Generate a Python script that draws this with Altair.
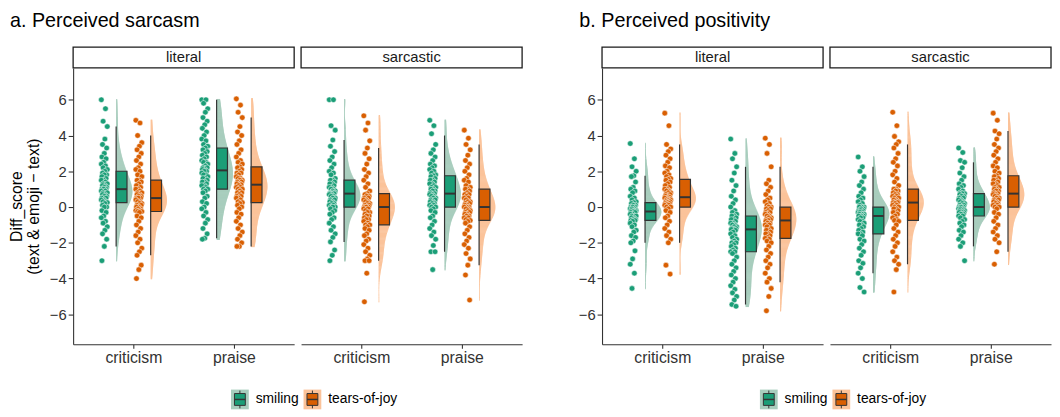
import altair as alt
import pandas as pd

FONT = "Liberation Sans"

PANELS = ["a. Perceived sarcasm", "b. Perceived positivity"]
CONDITIONS = ["literal", "sarcastic"]
CATEGORIES = ["criticism", "praise"]
EMOJIS = ["smiling", "tears-of-joy"]
Y_TITLE = ["Diff_score", "(text & emoji \u2212 text)"]
Y_TICKS = [-6, -4, -2, 0, 2, 4, 6]

# ---- a. Perceived sarcasm: individual diff scores ----
sarc_lit_crit_smiling = [6.0, 5.5, 4.8, 4.5, 3.8, 3.5, 3.3, 3.0, 2.8, 2.7, 2.5, 2.4, 2.3, 2.2, 2.1, 2.0,
                         1.9, 1.8, 1.8, 1.7, 1.6, 1.5, 1.5, 1.4, 1.3, 1.3, 1.2, 1.2, 1.1, 1.1, 1.0, 1.0,
                         1.0, 0.9, 0.9, 0.8, 0.8, 0.7, 0.7, 0.6, 0.6, 0.5, 0.5, 0.4, 0.4, 0.3, 0.3, 0.25,
                         0.2, 0.1, 0.0, 0.0, -0.2, -0.3, -0.5, -0.6, -0.8, -0.9, -1.1, -1.3, -1.5, -1.8, -2.2, -3.0]
sarc_lit_crit_tears = [4.85, 4.7, 4.0, 3.6, 3.4, 3.2, 3.0, 2.8, 2.6, 2.4, 2.2, 2.1, 2.0, 1.8, 1.7, 1.5,
                       1.5, 1.4, 1.3, 1.2, 1.1, 1.0, 1.0, 0.9, 0.8, 0.8, 0.7, 0.7, 0.6, 0.6, 0.5, 0.5,
                       0.5, 0.4, 0.3, 0.3, 0.2, 0.2, 0.1, 0.1, 0.0, 0.0, -0.1, -0.1, -0.2, -0.2, -0.25, -0.25,
                       -0.3, -0.5, -0.6, -0.8, -1.0, -1.2, -1.4, -1.6, -1.8, -2.0, -2.3, -2.5, -2.7, -3.25, -3.5, -4.0]
sarc_lit_praise_smiling = [6.0, 6.0, 5.8, 5.5, 5.3, 5.0, 4.8, 4.6, 4.4, 4.2, 4.0, 3.8, 3.7, 3.5, 3.4, 3.3,
                           3.2, 3.1, 3.0, 2.9, 2.8, 2.7, 2.6, 2.5, 2.5, 2.4, 2.3, 2.2, 2.2, 2.1, 2.1, 2.0,
                           2.0, 1.9, 1.8, 1.8, 1.7, 1.6, 1.6, 1.5, 1.4, 1.4, 1.3, 1.2, 1.2, 1.1, 1.0, 1.0,
                           0.9, 0.8, 0.6, 0.5, 0.3, 0.2, 0.0, -0.1, -0.3, -0.5, -0.7, -0.9, -1.2, -1.5, -1.75, -1.8]
sarc_lit_praise_tears = [6.05, 5.7, 5.3, 5.0, 4.5, 4.2, 4.0, 3.7, 3.5, 3.2, 3.0, 2.8, 2.6, 2.5, 2.4, 2.25,
                         2.2, 2.1, 2.0, 1.9, 1.9, 1.8, 1.7, 1.6, 1.6, 1.5, 1.5, 1.4, 1.4, 1.3, 1.3, 1.25,
                         1.2, 1.1, 1.1, 1.0, 1.0, 0.9, 0.8, 0.8, 0.7, 0.6, 0.6, 0.5, 0.5, 0.4, 0.3, 0.25,
                         0.2, 0.1, 0.0, -0.1, -0.3, -0.4, -0.6, -0.8, -1.0, -1.2, -1.4, -1.6, -1.8, -2.0, -2.2, -2.2]
sarc_sar_crit_smiling = [6.0, 6.0, 4.55, 4.3, 3.75, 3.4, 3.1, 2.8, 2.6, 2.4, 2.2, 2.0, 1.9, 1.8, 1.6, 1.5,
                         1.5, 1.4, 1.3, 1.3, 1.2, 1.1, 1.1, 1.0, 1.0, 0.9, 0.9, 0.8, 0.8, 0.8, 0.75, 0.75,
                         0.7, 0.7, 0.6, 0.6, 0.5, 0.5, 0.4, 0.4, 0.3, 0.3, 0.2, 0.2, 0.1, 0.1, 0.0, 0.0,
                         0.0, -0.1, -0.2, -0.3, -0.4, -0.6, -0.7, -0.9, -1.1, -1.3, -1.5, -1.7, -1.95, -2.4, -2.7, -3.0]
sarc_sar_crit_tears = [5.1, 4.7, 4.3, 3.7, 3.3, 3.0, 2.7, 2.4, 2.1, 1.9, 1.7, 1.5, 1.3, 1.1, 0.9, 0.75,
                       0.7, 0.6, 0.6, 0.5, 0.5, 0.4, 0.4, 0.3, 0.3, 0.2, 0.2, 0.1, 0.1, 0.0, 0.0, 0.0,
                       0.0, -0.1, -0.1, -0.2, -0.3, -0.3, -0.4, -0.5, -0.5, -0.6, -0.7, -0.7, -0.8, -0.9, -1.0, -1.0,
                       -1.1, -1.2, -1.3, -1.5, -1.6, -1.8, -1.9, -2.1, -2.3, -2.5, -2.7, -2.9, -3.0, -3.0, -3.7, -5.3]
sarc_sar_praise_smiling = [4.85, 4.55, 4.1, 3.5, 3.2, 3.0, 2.8, 2.6, 2.4, 2.3, 2.2, 2.1, 2.0, 1.9, 1.8, 1.75,
                           1.7, 1.6, 1.5, 1.5, 1.4, 1.3, 1.3, 1.2, 1.1, 1.1, 1.0, 1.0, 0.9, 0.9, 0.8, 0.75,
                           0.7, 0.7, 0.6, 0.6, 0.5, 0.5, 0.4, 0.4, 0.3, 0.3, 0.2, 0.2, 0.1, 0.1, 0.0, 0.0,
                           -0.1, -0.2, -0.3, -0.5, -0.6, -0.8, -1.0, -1.2, -1.4, -1.6, -1.8, -2.15, -2.5, -2.5, -3.5]
sarc_sar_praise_tears = [4.3, 3.85, 3.5, 3.2, 2.9, 2.6, 2.4, 2.2, 2.0, 1.8, 1.6, 1.5, 1.4, 1.2, 1.1, 1.0,
                         1.0, 0.9, 0.8, 0.7, 0.7, 0.6, 0.5, 0.5, 0.4, 0.3, 0.3, 0.2, 0.2, 0.1, 0.1, 0.0,
                         0.0, 0.0, -0.1, -0.1, -0.2, -0.2, -0.3, -0.3, -0.4, -0.4, -0.5, -0.5, -0.6, -0.6, -0.7, -0.75,
                         -0.8, -0.9, -1.1, -1.3, -1.5, -1.7, -1.9, -2.1, -2.3, -2.6, -2.9, -3.25, -3.8, -5.2]

# ---- b. Perceived positivity: individual diff scores ----
pos_lit_crit_smiling = [3.55, 2.7, 2.25, 2.0, 1.75, 1.7, 1.4, 1.1, 1.0, 0.9, 0.8, 0.6, 0.5, 0.4, 0.3, 0.25,
                        0.2, 0.1, 0.1, 0.0, 0.0, 0.0, -0.1, -0.1, -0.1, -0.2, -0.2, -0.2, -0.25, -0.25,
                        -0.3, -0.3, -0.4, -0.4, -0.5, -0.5, -0.5, -0.6, -0.6, -0.7, -0.7, -0.75, -0.75,
                        -0.8, -0.9, -1.0, -1.1, -1.3, -1.4, -1.6, -1.7, -1.9, -2.0, -2.45, -2.9, -3.2, -3.7, -4.55]
pos_lit_crit_tears = [5.25, 4.55, 3.5, 3.25, 3.1, 2.9, 2.7, 2.5, 2.3, 2.2, 2.0, 1.9, 1.8, 1.7, 1.6, 1.55,
                      1.5, 1.4, 1.3, 1.2, 1.1, 1.0, 1.0, 0.9, 0.9, 0.8, 0.8, 0.7, 0.7, 0.6, 0.6, 0.55,
                      0.5, 0.5, 0.45, 0.4, 0.4, 0.35, 0.3, 0.3, 0.25, 0.2, 0.2, 0.15, 0.1, 0.1, 0.0, 0.0,
                      -0.1, -0.2, -0.3, -0.5, -0.6, -0.8, -1.0, -1.2, -1.4, -1.6, -1.8, -2.0, -3.25, -3.75]
pos_lit_praise_smiling = [3.8, 3.0, 2.7, 2.25, 1.9, 1.5, 1.2, 0.9, 0.6, 0.4, 0.2, 0.0, -0.2, -0.3, -0.4, -0.5,
                          -0.5, -0.6, -0.7, -0.7, -0.8, -0.9, -0.9, -1.0, -1.0, -1.1, -1.1, -1.2, -1.2, -1.25, -1.25,
                          -1.3, -1.4, -1.5, -1.6, -1.7, -1.8, -1.9, -2.0, -2.0, -2.1, -2.2, -2.3, -2.4, -2.5, -2.5,
                          -2.6, -2.8, -3.0, -3.2, -3.4, -3.6, -3.8, -4.0, -4.2, -4.4, -4.6, -4.8, -5.0, -5.2, -5.45, -5.55]
pos_lit_praise_tears = [3.85, 3.5, 3.0, 2.25, 1.5, 1.3, 1.1, 0.9, 0.7, 0.5, 0.4, 0.3, 0.2, 0.1, 0.0, 0.0,
                        -0.1, -0.1, -0.2, -0.3, -0.3, -0.4, -0.4, -0.5, -0.5, -0.6, -0.6, -0.7, -0.7, -0.75,
                        -0.8, -0.9, -0.9, -1.0, -1.0, -1.1, -1.2, -1.3, -1.3, -1.4, -1.5, -1.5, -1.6, -1.7, -1.75,
                        -1.8, -1.9, -2.0, -2.2, -2.4, -2.6, -2.8, -3.0, -3.2, -3.4, -3.7, -4.0, -4.2, -4.55, -5.0, -5.8]
pos_sar_crit_smiling = [2.8, 2.25, 2.0, 1.7, 1.4, 1.2, 1.0, 0.8, 0.6, 0.5, 0.4, 0.3, 0.2, 0.1, 0.0, 0.0,
                        0.0, -0.1, -0.1, -0.2, -0.2, -0.2, -0.3, -0.3, -0.3, -0.4, -0.4, -0.4, -0.5, -0.5, -0.5,
                        -0.6, -0.6, -0.7, -0.8, -0.8, -0.9, -1.0, -1.0, -1.1, -1.2, -1.3, -1.4, -1.5, -1.5,
                        -1.6, -1.8, -1.9, -2.1, -2.3, -2.5, -2.7, -3.0, -3.15, -3.4, -3.7, -4.0, -4.5, -4.75]
pos_sar_crit_tears = [5.3, 4.55, 3.95, 3.65, 3.5, 3.3, 3.0, 2.7, 2.5, 2.3, 2.0, 1.8, 1.6, 1.4, 1.2, 1.0,
                      1.0, 0.9, 0.9, 0.8, 0.7, 0.7, 0.6, 0.6, 0.5, 0.5, 0.4, 0.4, 0.3, 0.3, 0.25, 0.25,
                      0.2, 0.1, 0.1, 0.0, 0.0, -0.1, -0.1, -0.2, -0.3, -0.3, -0.4, -0.5, -0.6, -0.7, -0.75,
                      -0.8, -1.0, -1.2, -1.4, -1.6, -1.8, -2.0, -2.2, -2.5, -2.8, -3.0, -3.2, -3.5, -4.75]
pos_sar_praise_smiling = [3.3, 3.05, 2.6, 2.5, 2.2, 1.9, 1.7, 1.5, 1.3, 1.2, 1.1, 1.0, 0.9, 0.8, 0.75, 0.75,
                          0.7, 0.6, 0.6, 0.5, 0.5, 0.4, 0.4, 0.3, 0.3, 0.2, 0.2, 0.1, 0.1, 0.0, 0.0, 0.0,
                          0.0, -0.1, -0.1, -0.1, -0.2, -0.2, -0.2, -0.3, -0.3, -0.3, -0.4, -0.4, -0.5, -0.5,
                          -0.6, -0.7, -0.8, -0.9, -1.0, -1.1, -1.3, -1.4, -1.6, -1.8, -2.0, -2.2, -3.0]
pos_sar_praise_tears = [5.25, 4.85, 4.25, 4.1, 3.8, 3.5, 3.3, 3.1, 2.9, 2.7, 2.5, 2.3, 2.2, 2.0, 1.9, 1.75,
                        1.7, 1.6, 1.5, 1.5, 1.4, 1.3, 1.3, 1.2, 1.1, 1.1, 1.0, 1.0, 0.9, 0.9, 0.8, 0.75,
                        0.7, 0.7, 0.6, 0.6, 0.5, 0.5, 0.4, 0.4, 0.3, 0.3, 0.2, 0.2, 0.1, 0.1, 0.0, 0.0,
                        -0.1, -0.3, -0.4, -0.6, -0.8, -1.0, -1.2, -1.4, -1.6, -1.8, -2.0, -2.5, -3.2]

# ---- box statistics: [lower whisker, Q1, median, Q3, upper whisker]
# order: criticism-smiling, criticism-tears, praise-smiling, praise-tears
box_sarc_literal = [[-2.2, 0.25, 1.0, 2.0, 4.5], [-2.7, -0.25, 0.5, 1.5, 4.0],
                    [-1.75, 1.0, 2.05, 3.3, 6.0], [-2.2, 0.25, 1.25, 2.25, 5.0]]
box_sarc_sarcastic = [[-1.95, 0.0, 0.75, 1.5, 3.75], [-3.0, -1.0, 0.0, 0.75, 3.3],
                      [-2.5, 0.0, 0.75, 1.75, 4.0], [-3.25, -0.75, 0.0, 1.0, 3.5]]
box_pos_literal = [[-2.0, -0.75, -0.25, 0.25, 1.75], [-2.0, 0.0, 0.55, 1.55, 3.5],
                   [-5.45, -2.5, -1.25, -0.5, 2.25], [-4.2, -1.75, -0.75, 0.0, 2.25]]
box_pos_sarcastic = [[-3.7, -1.5, -0.5, 0.0, 2.25], [-3.2, -0.75, 0.25, 1.0, 3.5],
                     [-2.2, -0.5, 0.0, 0.75, 2.5], [-2.5, 0.0, 0.75, 1.75, 4.25]]

POINT_SETS = {
    (0, 0): [sarc_lit_crit_smiling, sarc_lit_crit_tears, sarc_lit_praise_smiling, sarc_lit_praise_tears],
    (0, 1): [sarc_sar_crit_smiling, sarc_sar_crit_tears, sarc_sar_praise_smiling, sarc_sar_praise_tears],
    (1, 0): [pos_lit_crit_smiling, pos_lit_crit_tears, pos_lit_praise_smiling, pos_lit_praise_tears],
    (1, 1): [pos_sar_crit_smiling, pos_sar_crit_tears, pos_sar_praise_smiling, pos_sar_praise_tears],
}
BOX_SETS = {(0, 0): box_sarc_literal, (0, 1): box_sarc_sarcastic,
            (1, 0): box_pos_literal, (1, 1): box_pos_sarcastic}

pt_rows, bx_rows = [], []
for (p, c), sets in POINT_SETS.items():
    for k, vals in enumerate(sets):
        for i, v in enumerate(vals):
            pt_rows.append(dict(panel=p, cond=c, ci=k // 2 + 1, cat=CATEGORIES[k // 2],
                                emoji=EMOJIS[k % 2], grp=k, idx=i, value=v))
for (p, c), stats in BOX_SETS.items():
    for k, (lo, q1, med, q3, hi) in enumerate(stats):
        bx_rows.append(dict(panel=p, cond=c, ci=k // 2 + 1, emoji=EMOJIS[k % 2],
                            lo=lo, q1=q1, med=med, q3=q3, hi=hi))
points_df = pd.DataFrame(pt_rows)
box_df = pd.DataFrame(bx_rows)

# ---- layout / style ----
W, H = 224, 280
XDOM = [0.4, 2.6]
YDOM = [-7.67, 7.78]
UNIT = W / (XDOM[1] - XDOM[0])
OFF = 17.5 / UNIT
PT_SHIFT = 12 / UNIT
JIT = 6 / UNIT
BOXW = 11 / UNIT
VIOW = 16.5 / UNIT

DARK = ["#1B9E77", "#D95F02"]
LIGHT = ["#A8CDBD", "#FBC39A"]
INK = "#333333"
LABEL_EXPR = "[" + ",".join("'%s'" % c for c in CATEGORIES) + "][datum.value - 1]"
FLAT = f"datum.ci + (datum.emoji == '{EMOJIS[0]}' ? {-OFF} : {OFF})"

xs = alt.Scale(domain=XDOM, nice=False, zero=False)
ys = alt.Scale(domain=YDOM, nice=False, zero=False)
dark_scale = alt.Scale(domain=EMOJIS, range=DARK)

LEG_X0, LEG_STEP, LEG_Y = 169, 73.5, 336
TITLE_X = [-64, -23]


def legend_layers():
    layers = []
    for i, e in enumerate(EMOJIS):
        cx = LEG_X0 + i * LEG_STEP
        base = alt.Chart(pd.DataFrame({"emoji": [e]}))
        layers.append(base.mark_rect(fill=LIGHT[i]).encode(
            x=alt.value(cx - 9), x2=alt.value(cx + 9), y=alt.value(LEG_Y - 10), y2=alt.value(LEG_Y + 10)))
        layers.append(base.mark_rule(color=INK, strokeWidth=1).encode(
            x=alt.value(cx), y=alt.value(LEG_Y - 9), y2=alt.value(LEG_Y + 9)))
        layers.append(base.mark_rect(fill=DARK[i], stroke=INK, strokeWidth=1).encode(
            x=alt.value(cx - 5.5), x2=alt.value(cx + 5.5), y=alt.value(LEG_Y - 6), y2=alt.value(LEG_Y + 6)))
        layers.append(base.mark_rule(color=INK, strokeWidth=1.5).encode(
            x=alt.value(cx - 5.5), x2=alt.value(cx + 5.5), y=alt.value(LEG_Y)))
        layers.append(base.mark_text(align="left", baseline="middle", fontSize=14, font=FONT,
                                     color="#000000").encode(
            x=alt.value(cx + 16), y=alt.value(LEG_Y), text="emoji:N"))
    return layers


def make_cell(p, c):
    pts = points_df[(points_df.panel == p) & (points_df.cond == c)]
    bx = box_df[(box_df.panel == p) & (box_df.cond == c)]
    show_y = c == 0
    xaxis = alt.Axis(values=[1, 2], labelExpr=LABEL_EXPR, tickSize=4, labelPadding=2,
                     labelFontSize=16)
    if show_y:
        yaxis = alt.Axis(values=Y_TICKS, tickSize=5, labelPadding=2, labelFontSize=15,
                         titlePadding=8, titleFontSize=16, titleLineHeight=17)
    else:
        yaxis = None
    ytitle = Y_TITLE if (show_y and p == 0) else None

    def X(f):
        return alt.X(f, type="quantitative", scale=xs, axis=xaxis, title=None)

    def Y(f):
        return alt.Y(f, type="quantitative", scale=ys, axis=yaxis, title=ytitle)

    # half violins drawn as thin horizontal slices of the library's KDE
    violins = []
    for k in range(4):
        gpts = pts[pts.grp == k][["ci", "emoji", "value"]]
        v = alt.Chart(gpts).transform_density(
            "value", groupby=["ci", "emoji"], as_=["yv", "dens"], steps=160
        ).transform_joinaggregate(
            maxd="max(dens)", groupby=["ci", "emoji"]
        ).transform_calculate(
            flat=FLAT
        ).transform_calculate(
            vx=f"datum.flat + datum.dens / datum.maxd * {VIOW}"
        ).mark_rule(strokeWidth=1.6, color=LIGHT[k % 2], opacity=1).encode(
            y=Y("yv"), x=X("flat"), x2=alt.X2("vx"))
        violins.append(v)

    dots = alt.Chart(pts).transform_calculate(
        flat=FLAT
    ).transform_calculate(
        jit="((datum.idx * 7) % 11) / 10 - 0.5"
    ).transform_calculate(
        px=f"datum.flat - {PT_SHIFT} + datum.jit * {JIT}"
    ).mark_circle(size=32, opacity=1, stroke="white", strokeWidth=0.5).encode(
        x=X("px"), y=Y("value"),
        color=alt.Color("emoji:N", scale=dark_scale, legend=None))

    bbase = alt.Chart(bx).transform_calculate(flat=FLAT).transform_calculate(
        flat2=f"datum.flat + {BOXW}")
    whisk = bbase.mark_rule(color=INK, strokeWidth=1.2).encode(
        x=X("flat"), y=Y("lo"), y2=alt.Y2("hi"))
    boxr = bbase.mark_rect(stroke=INK, strokeWidth=1.2).encode(
        x=X("flat"), x2=alt.X2("flat2"), y=Y("q1"), y2=alt.Y2("q3"),
        color=alt.Color("emoji:N", scale=dark_scale, legend=None))
    med = bbase.mark_rule(color=INK, strokeWidth=2).encode(
        x=X("flat"), x2=alt.X2("flat2"), y=Y("med"))

    sdf = pd.DataFrame({"cond": [CONDITIONS[c]]})
    strip_rect = alt.Chart(sdf).mark_rect(fill="white", stroke="#1a1a1a", strokeWidth=1.3).encode(
        x=alt.value(0), x2=alt.value(W), y=alt.value(-21), y2=alt.value(0))
    strip_text = alt.Chart(sdf).mark_text(fontSize=15, font=FONT, color="#1a1a1a",
                                          baseline="middle").encode(
        x=alt.value(W / 2), y=alt.value(-10.5), text="cond:N")

    layers = violins + [dots, whisk, boxr, med, strip_rect, strip_text]
    if show_y:
        tdf = pd.DataFrame({"t": [PANELS[p]]})
        layers.append(alt.Chart(tdf).mark_text(align="left", baseline="alphabetic", fontSize=20,
                                               font=FONT, color="#000000").encode(
            x=alt.value(TITLE_X[p]), y=alt.value(-41.7), text="t:N"))
        layers += legend_layers()
    return alt.layer(*layers).properties(width=W, height=H)


spacer = alt.Chart(pd.DataFrame({"a": [0]})).mark_point(opacity=0).encode(
    x=alt.value(0), y=alt.value(0)).properties(width=67, height=H)

cells = [make_cell(0, 0), make_cell(0, 1), spacer, make_cell(1, 0), make_cell(1, 1)]

chart = alt.hconcat(*cells, spacing=7, bounds="flush").properties(
    padding=0
).configure_view(stroke=None).configure_axis(
    domainColor=INK, tickColor=INK, labelColor=INK, labelFont=FONT, titleFont=FONT,
    titleColor="#000000", titleFontWeight="normal", grid=False, domainWidth=1.1, tickWidth=1.1
)

chart.save("out.html", embed_options={"renderer": "svg", "actions": False})
